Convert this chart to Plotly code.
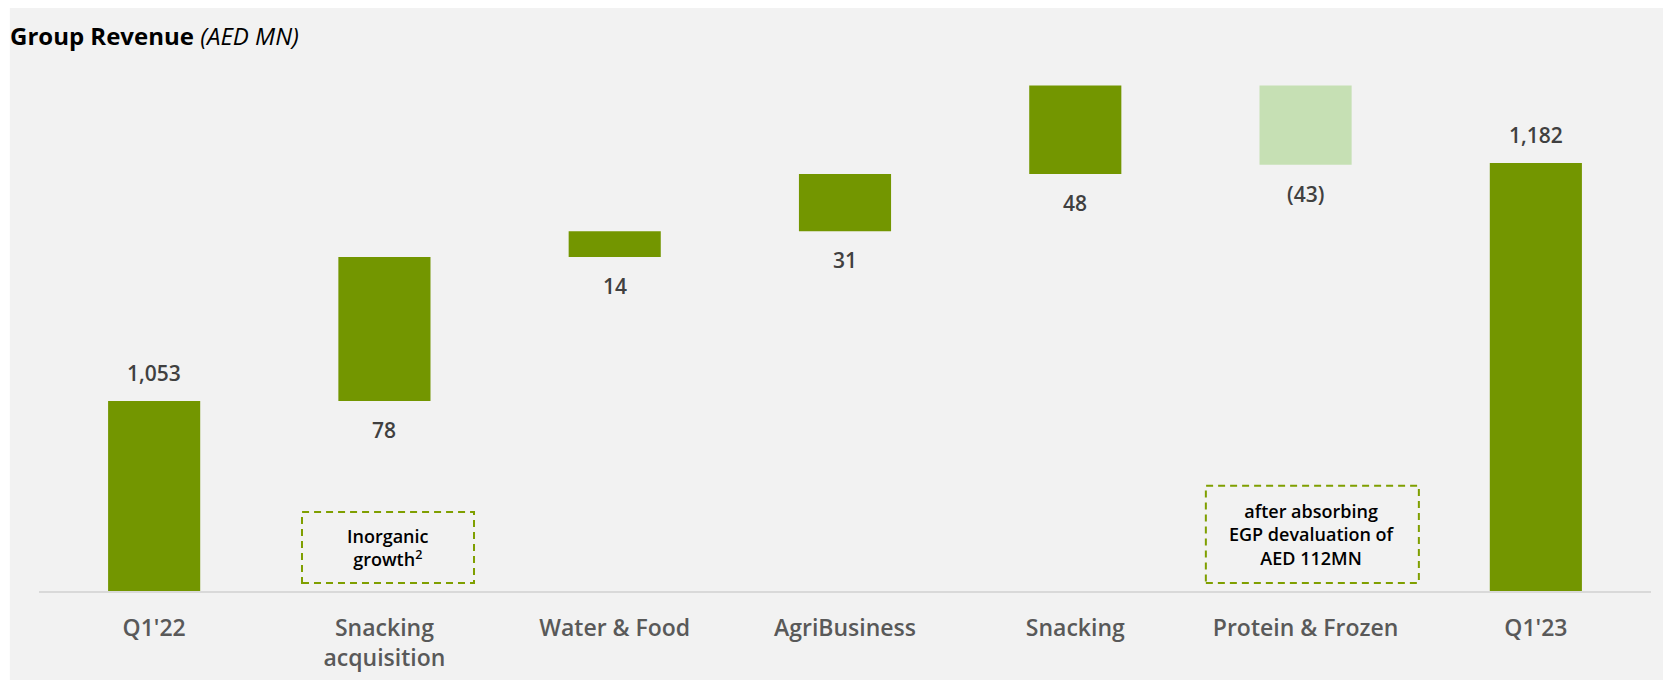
import plotly.graph_objects as go

categories = ["Q1'22", "Snacking<br>acquisition", "Water & Food", "AgriBusiness", "Snacking", "Protein & Frozen", "Q1'23"]
values = [1053, 78, 14, 31, 48, -43, 1182]
measures = ["absolute", "relative", "relative", "relative", "relative", "relative", "absolute"]
labels = ["1,053", "78", "14", "31", "48", "(43)", "1,182"]

FONT = "Open Sans"
GREEN = "#739600"
LIGHT = "#c6e0b4"

fig = go.Figure(go.Waterfall(
    x=list(range(len(categories))),
    y=values,
    measure=measures,
    increasing=dict(marker=dict(color=GREEN)),
    decreasing=dict(marker=dict(color=LIGHT)),
    totals=dict(marker=dict(color=GREEN)),
    connector=dict(visible=False),
    hoverinfo="skip",
))

# label positions from cumulative values
ann = []
cum = 0
for i, (v, m, t) in enumerate(zip(values, measures, labels)):
    if m == "absolute":
        cum = v
        ann.append(dict(x=i, y=v, text=t, yanchor="bottom", yshift=12))
    else:
        prev = cum
        cum = cum + v
        bottom = min(prev, cum)
        ann.append(dict(x=i, y=bottom, text=t, yanchor="top", yshift=-13))
for a in ann:
    a.update(xref="x", yref="y", showarrow=False,
             font=dict(family=FONT, size=21, color="#404040", weight=600))

# notes
ann.append(dict(x=1.016, y=973.5, xref="x", yref="y", showarrow=False,
                text="Inorganic<br>growth<sup>2</sup>", align="center",
                font=dict(family=FONT, size=18, color="#000000", weight=600)))
ann.append(dict(x=5.03, y=980.5, xref="x", yref="y", showarrow=False,
                text="after absorbing<br>EGP devaluation of<br>AED 112MN", align="center",
                font=dict(family=FONT, size=18, color="#000000", weight=600)))

shapes = [
    dict(type="rect", xref="paper", yref="paper", x0=-0.0181, x1=1.02, y0=-0.2, y1=1.1,
         fillcolor="#f2f2f2", line=dict(width=0), layer="below"),
    dict(type="rect", xref="x", yref="y", x0=0.642, x1=1.389, y0=954.3, y1=992.8,
         line=dict(color="#7f9f00", width=2, dash="7px,5px"), fillcolor="rgba(0,0,0,0)"),
    dict(type="rect", xref="x", yref="y", x0=4.567, x1=5.492, y0=954.3, y1=1007,
         line=dict(color="#7f9f00", width=2, dash="7px,5px"), fillcolor="rgba(0,0,0,0)"),
]

fig.update_layout(
    width=1655, height=672,
    margin=dict(l=31, r=12, t=48, b=89),
    paper_bgcolor="white", plot_bgcolor="rgba(0,0,0,0)",
    showlegend=False,
    waterfallgap=0.6,
    title=dict(text="<b>Group Revenue</b> <i>(AED MN)</i>", x=2/1655, xref="container", xanchor="left",
               y=1-29/672, yref="container", yanchor="middle",
               font=dict(family=FONT, size=24, color="#000000")),
    xaxis=dict(tickmode="array", tickvals=list(range(len(categories))), ticktext=categories,
               range=[-0.5, 6.5], showgrid=False, zeroline=False, automargin=False,
               showline=True, linecolor="#d9d9d9", linewidth=2, ticks="",
               ticklabelstandoff=15,
               tickfont=dict(family=FONT, size=23, color="#595959", weight=600)),
    yaxis=dict(range=[950, 1240], visible=False, showgrid=False, zeroline=False, automargin=False),
    annotations=ann,
    shapes=shapes,
)

fig.write_html("out.html")
